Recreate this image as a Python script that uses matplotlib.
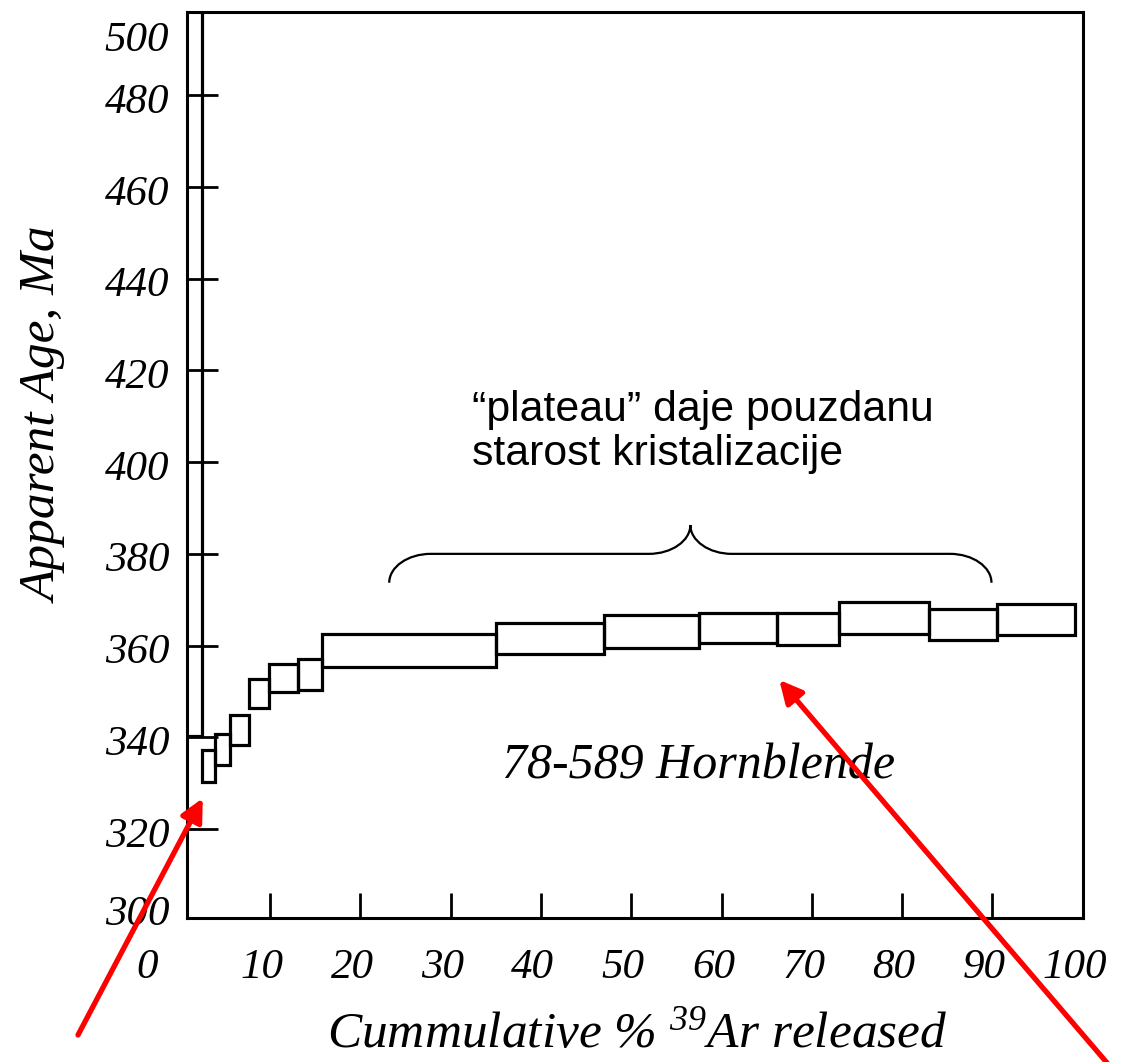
import matplotlib
matplotlib.use('Agg')
import matplotlib.pyplot as plt
from matplotlib.path import Path
from matplotlib.patches import PathPatch
import matplotlib.transforms as mtransforms

# heating steps: cumulative % 39Ar boundaries and age range (Ma) of each step
step_edges = [0.0, 2.44, 3.91, 5.57, 7.67, 9.92, 13.13, 15.73, 34.99,
              47.0, 57.46, 66.10, 72.97, 83.01, 90.51, 99.15]
age_low = [340.2, 330.3, 334.0, 338.3, 346.4, 349.8, 350.3, 355.4,
           358.2, 359.5, 360.6, 360.2, 362.5, 361.2, 362.3]
age_high = [560.0, 337.3, 340.7, 344.9, 352.7, 356.0, 357.1, 362.5,
            365.0, 366.6, 367.2, 367.1, 369.4, 367.9, 369.1]

x_ticks = [10, 20, 30, 40, 50, 60, 70, 80, 90]
x_labels = [0, 10, 20, 30, 40, 50, 60, 70, 80, 90, 100]
y_ticks = [320, 340, 360, 380, 400, 420, 440, 460, 480]
y_labels = [300, 320, 340, 360, 380, 400, 420, 440, 460, 480, 500]

# plateau brace (x from, x to, level) and arrow targets
plateau = (23.2, 89.9, 380.0)
arrow_tips = [(2.55, 326.7), (66.4, 352.5)]

serif = dict(family='Liberation Serif', style='italic')

fig = plt.figure(figsize=(11.21, 10.62), dpi=100)
ax = fig.add_axes([0.1668, 0.1353, 0.7990, 0.8534])
ax.set_xlim(0.8, 100)
ax.set_ylim(300.5, 498.2)

widths = [b - a for a, b in zip(step_edges[:-1], step_edges[1:])]
heights = [h - l for l, h in zip(age_low, age_high)]
ax.bar(step_edges[:-1], heights, width=widths, bottom=age_low, align='edge',
       fill=False, edgecolor='black', linewidth=2.3)

for s in ax.spines.values():
    s.set_linewidth(2.2)
ax.set_xticks(x_ticks)
ax.set_yticks(y_ticks)
ax.tick_params(axis='x', direction='in', length=18, width=2.0,
               labelbottom=False)
ax.tick_params(axis='y', direction='in', length=22, width=2.0,
               labelleft=False)

# tick labels, drawn as text to mimic the hand placed originals
tx = mtransforms.blended_transform_factory(ax.transData, ax.transAxes)
for v in x_labels:
    dx = -3.6 if v == 0 else -0.9
    ax.text(v + dx, -0.054, str(v), transform=tx, ha='center', va='center',
            fontsize=31, **serif)
ty = mtransforms.blended_transform_factory(ax.transAxes, ax.transData)
for v in y_labels:
    yy = min(v, 493.5) - 1.6 if v > 300 else v + 1.3
    ax.text(-0.02, yy, str(v), transform=ty, ha='right', va='center',
            fontsize=31, **serif)

fig.text(0.040, 0.609, 'Apparent Age, Ma', rotation=90, ha='center',
         va='center', fontsize=37, **serif)
plt.rcParams['mathtext.fontset'] = 'custom'
plt.rcParams['mathtext.rm'] = 'Liberation Serif:italic'
plt.rcParams['mathtext.it'] = 'Liberation Serif:italic'
fig.text(0.568, 0.0141, r'Cummulative % $^{39}$Ar released', ha='center',
         va='baseline', fontsize=37, **serif)

ax.text(57.5, 331.1, '78-589 Hornblende', ha='center', va='baseline',
        fontsize=36, **serif)

ax.text(32.4, 415.8, '\u201cplateau\u201d daje pouzdanu\nstarost kristalizacije',
        ha='left', va='top', fontsize=30.8, family='Liberation Sans',
        linespacing=1.15)

# curly brace over the plateau steps
x0, x1, yf = plateau
xm = (x0 + x1) / 2
rx, ry = 4.6, 6.3
yb, yc = yf - ry, yf + ry
k = 0.55
verts = [(x0, yb),
         (x0, yb + k * ry), (x0 + rx * (1 - k), yf), (x0 + rx, yf),
         (xm - rx, yf),
         (xm - rx + k * rx, yf), (xm, yc - k * ry), (xm, yc),
         (xm, yc - k * ry), (xm + rx - k * rx, yf), (xm + rx, yf),
         (x1 - rx, yf),
         (x1 - rx * (1 - k), yf), (x1, yb + k * ry), (x1, yb)]
codes = [Path.MOVETO, Path.CURVE4, Path.CURVE4, Path.CURVE4, Path.LINETO,
         Path.CURVE4, Path.CURVE4, Path.CURVE4,
         Path.CURVE4, Path.CURVE4, Path.CURVE4, Path.LINETO,
         Path.CURVE4, Path.CURVE4, Path.CURVE4]
ax.add_patch(PathPatch(Path(verts, codes), fill=False, lw=1.6, color='black'))

# red arrows pointing at the first step and at the plateau
tails = [(78, 27), (1108, -2)]
for tip, tail in zip(arrow_tips, tails):
    ax.annotate('', xy=tip, xytext=tail, textcoords='figure pixels',
                arrowprops=dict(arrowstyle='-|>', color='#ff0000', lw=3.8,
                                mutation_scale=34, shrinkA=0, shrinkB=0))

fig.savefig('out.png', dpi=100)
